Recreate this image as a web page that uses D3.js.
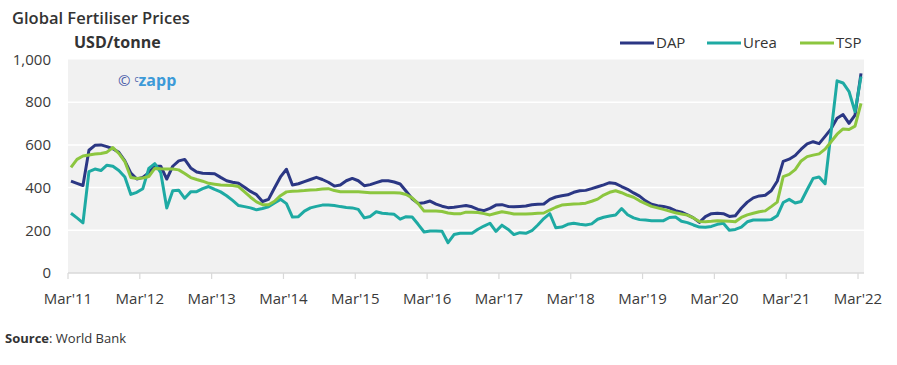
<!DOCTYPE html>
<html><head><meta charset="utf-8">
<script src="https://cdn.jsdelivr.net/npm/d3@7"></script>
<style>
body{margin:0;background:#fff;}
text{font-family:"Open Sans",sans-serif;}
</style></head>
<body><svg id="c" width="897" height="365"></svg>
<script>
const xTickLabels = ["Mar'11","Mar'12","Mar'13","Mar'14","Mar'15","Mar'16","Mar'17","Mar'18","Mar'19","Mar'20","Mar'21","Mar'22"];
const yTicks = [0,200,400,600,800,1000];
const seriesNames = ["DAP","Urea","TSP"];
const seriesColors = ["#2b3784","#1eaaa3","#8cc63f"];
// Monthly values, Mar 2011 .. Mar 2022 (USD/tonne)
const dap = [430,420,410,575,598,600,592,582,565,525,468,440,448,470,500,500,440,500,525,532,492,473,467,466,465,448,432,425,420,402,382,367,335,345,398,450,486,412,418,428,438,448,438,425,407,412,432,443,432,409,414,423,432,432,426,417,383,348,326,329,337,323,313,306,308,312,316,310,298,292,303,318,320,312,310,312,314,320,322,323,345,356,362,366,378,385,387,395,404,413,423,419,405,392,375,360,338,322,315,312,305,292,285,272,258,237,264,278,280,278,265,268,303,332,352,361,364,385,430,523,533,550,580,605,615,606,640,675,725,742,701,740,935];
const urea = [280,258,235,475,487,480,505,500,480,450,368,378,395,490,512,470,305,385,388,350,380,381,395,405,392,380,362,340,316,311,305,296,302,310,328,345,325,262,264,290,305,312,318,318,316,311,307,305,298,258,265,287,280,277,275,252,264,262,228,192,197,197,195,142,180,186,186,186,205,220,233,195,224,205,180,189,186,198,225,255,278,212,215,228,233,228,225,230,252,261,267,272,302,273,258,250,248,245,245,245,260,262,242,236,225,215,214,218,228,233,200,204,215,240,248,248,248,250,268,330,345,328,335,390,443,450,418,660,900,890,850,755,920];
const tsp = [495,532,548,553,557,560,566,588,560,522,447,443,445,452,490,488,487,487,483,466,447,438,430,420,416,412,411,410,405,380,355,333,320,320,336,362,380,383,384,386,389,390,393,395,386,381,381,381,380,378,376,376,376,376,376,375,368,352,325,290,290,290,288,281,278,277,285,285,283,278,272,280,287,282,276,276,276,278,280,281,295,308,318,321,323,324,327,336,346,365,378,385,376,364,355,338,325,312,305,298,290,282,276,271,258,241,240,242,245,244,242,240,260,272,280,287,291,311,332,451,462,484,525,545,552,558,580,615,650,675,672,688,795];
const seriesData = [dap, urea, tsp];

const svg = d3.select("#c");
const L = 68, R = 864, T = 59.5, B = 273;
const n = dap.length;
const x = d3.scaleLinear().domain([-0.5, n - 0.5]).range([L, R]);
const y = d3.scaleLinear().domain([0, 1000]).range([B, T]);

// background
svg.append("rect").attr("x", L).attr("y", y(1000)).attr("width", R - L).attr("height", B - y(1000)).attr("fill", "#f1f1f1");
// gridlines
svg.append("g").selectAll("line").data(yTicks.filter(d => d > 0 && d < 1000)).join("line")
  .attr("x1", L).attr("x2", R).attr("y1", d => y(d)).attr("y2", d => y(d))
  .attr("stroke", "#ffffff").attr("stroke-width", 1.5);

// y labels
svg.append("g").selectAll("text").data(yTicks).join("text")
  .attr("x", 51).attr("y", d => y(d)).attr("dy", "0.35em").attr("text-anchor", "end")
  .attr("font-size", 15).attr("fill", "#3a3a3a").text(d => d3.format(",")(d));

// x axis
const tickIdx = xTickLabels.map((d, i) => i * 12 - 0.5);
svg.append("line").attr("x1", L).attr("x2", R).attr("y1", B).attr("y2", B).attr("stroke", "#d9d9d9").attr("stroke-width", 1.5);
svg.append("g").selectAll("line").data(tickIdx).join("line")
  .attr("x1", d => x(d)).attr("x2", d => x(d)).attr("y1", B).attr("y2", B + 6)
  .attr("stroke", "#d9d9d9").attr("stroke-width", 1.2);
svg.append("g").selectAll("text").data(xTickLabels).join("text")
  .attr("x", (d, i) => x(tickIdx[i])).attr("y", 304).attr("text-anchor", "middle")
  .attr("font-size", 15).attr("fill", "#3a3a3a").text(d => d);

// lines
const line = d3.line().x((d, i) => x(i)).y(d => y(d));
seriesData.forEach((s, k) => {
  svg.append("path").datum(s).attr("d", line).attr("fill", "none")
    .attr("stroke", seriesColors[k]).attr("stroke-width", 3).attr("stroke-linejoin", "round");
});

// titles
svg.append("text").attr("x", 12).attr("y", 24).attr("font-size", 16.5).attr("font-weight", 600).attr("fill", "#333").text("Global Fertiliser Prices");
svg.append("text").attr("x", 74).attr("y", 48).attr("font-size", 16).attr("font-weight", "bold").attr("fill", "#333").text("USD/tonne");

// watermark
const wm = svg.append("text").attr("x", 118).attr("y", 86).attr("font-size", 15);
wm.append("tspan").attr("fill", "#4a5ba8").text("©");
wm.append("tspan").attr("fill", "#4a5ba8").attr("font-size", 8.5).attr("dy", -4).attr("dx", 4).text("c");
wm.append("tspan").attr("fill", "#3c9ad8").attr("font-weight", "bold").attr("font-size", 16).attr("dy", 4).text("zapp");

// legend
const legX = [620, 707, 800];
const lg = svg.append("g").selectAll("g").data(seriesNames).join("g")
  .attr("transform", (d, i) => `translate(${legX[i]},43)`);
lg.append("line").attr("x1", 0).attr("x2", 34).attr("stroke", (d, i) => seriesColors[i]).attr("stroke-width", 3);
lg.append("text").attr("x", 36).attr("dy", "0.35em").attr("font-size", 15).attr("fill", "#333").text(d => d);

// source
const src = svg.append("text").attr("x", 5).attr("y", 343).attr("font-size", 13).attr("fill", "#333");
src.append("tspan").attr("font-weight", "bold").text("Source");
src.append("tspan").text(": World Bank");
</script></body></html>
